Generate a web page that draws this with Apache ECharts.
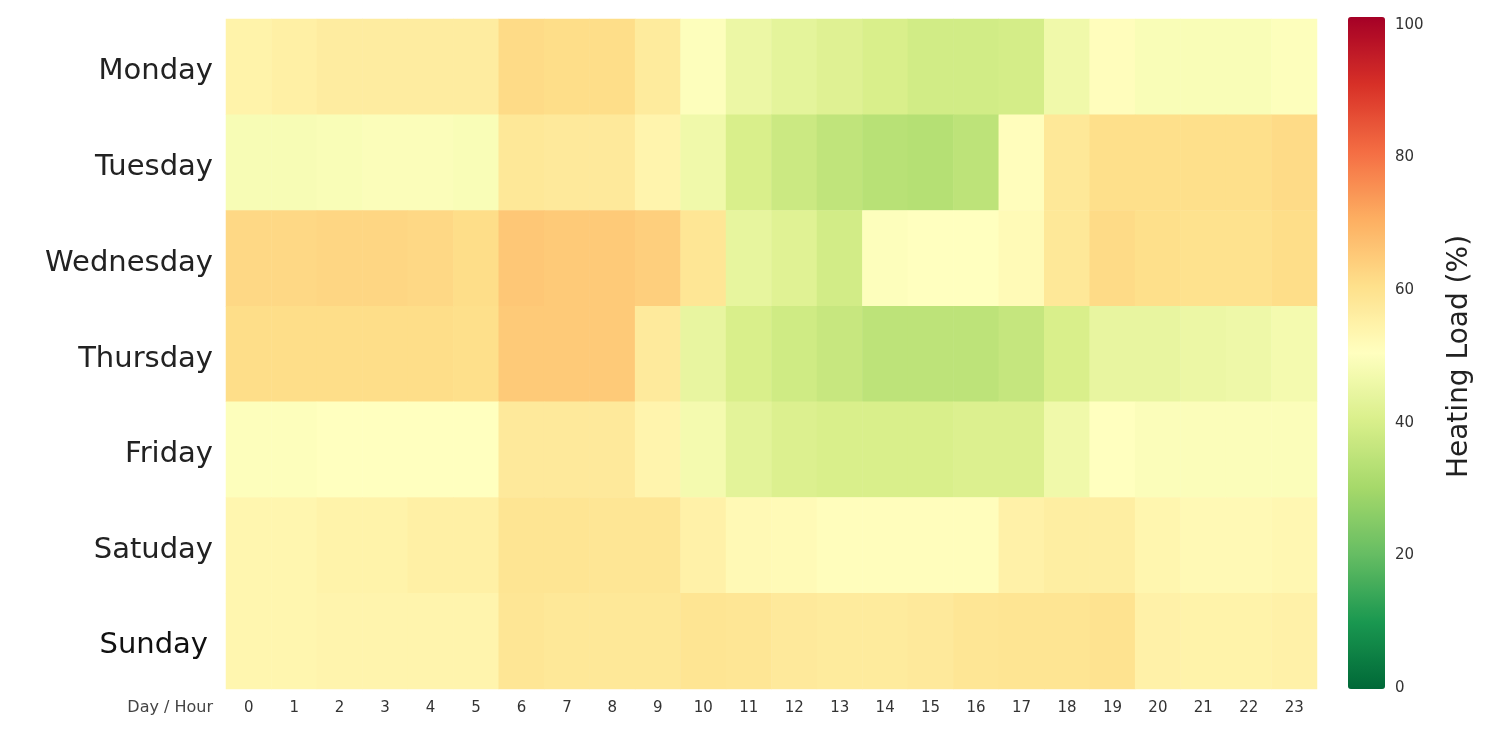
<!DOCTYPE html>
<html><head><meta charset="utf-8">
<script src="https://cdn.jsdelivr.net/npm/echarts@6/dist/echarts.min.js"></script>
<style>html,body{margin:0;padding:0;background:#fff}#c{width:1512px;height:751px}</style>
</head><body><div id="c"></div>
<script>
const days = ['Monday','Tuesday','Wednesday','Thursday','Friday','Satuday','Sunday'];
const hours = ['0','1','2','3','4','5','6','7','8','9','10','11','12','13','14','15','16','17','18','19','20','21','22','23'];
const monday    = [54, 55, 56, 56, 56, 56, 61, 60.5, 60.5, 56.5, 49.5, 45, 43, 41.5, 40, 38.5, 38.5, 39, 46, 50.5, 48.5, 48.5, 48.5, 49.5];
const tuesday   = [48, 48, 48.5, 49, 49, 48.5, 57.5, 57, 57, 53.5, 46, 40, 37.3, 35, 33.5, 33, 34.5, 50.5, 57.5, 60, 60, 60, 60, 61];
const wednesday = [61.5, 61.5, 62, 62, 61.5, 60.5, 65, 64.5, 64.5, 63.4, 58, 43.7, 41.8, 38.7, 49.5, 50, 50, 51.5, 57.5, 61, 60, 59.5, 59.5, 60.5];
const thursday  = [60.5, 60.5, 60.5, 60.5, 60.5, 60, 64.5, 64.5, 64.5, 56.8, 44, 40, 38, 36.5, 34.5, 34.5, 34.5, 36, 40, 44, 44, 45, 45.5, 47];
const friday    = [49.5, 49.5, 50, 50, 50, 50, 57, 57, 57, 53.5, 47, 42.6, 40.8, 40, 40, 40, 40.8, 40.8, 46, 50, 49, 49, 49, 49];
const saturday  = [53, 53, 54, 54, 55, 55, 58.5, 58.5, 58, 58, 54.5, 52, 51.5, 50.5, 50.5, 50.5, 50.5, 54.5, 55.5, 55.5, 53, 52, 52, 52.5];
const sunday    = [53, 53, 53.5, 53.5, 53.5, 53.5, 58, 57.5, 57.5, 57.5, 58.5, 58, 57, 56.5, 56.5, 57, 58, 58.5, 58.5, 59, 54.5, 54, 54, 54.5];
const colorTicks = [0, 100, 20];

const rows = [monday, tuesday, wednesday, thursday, friday, saturday, sunday];
const data = [];
rows.forEach((r, di) => r.forEach((v, hi) => data.push([hi, di, v])));

const FONT = 'DejaVu Sans';
const chart = echarts.init(document.getElementById('c'), null, {renderer: 'canvas'});
chart.setOption({
  animation: false,
  textStyle: {fontFamily: FONT},
  grid: [
    {left: 226, right: 195, top: 19, bottom: 62},
    {left: 1348, top: 25, width: 37, height: 663}
  ],
  xAxis: [
    {type: 'category', data: hours, gridIndex: 0,
     axisLine: {show: false}, axisTick: {show: false}, splitLine: {show: false},
     axisLabel: {color: '#333', fontSize: 15, margin: 12, fontFamily: FONT},
     name: 'Day / Hour', nameLocation: 'start', nameGap: 13,
     nameTextStyle: {color: '#444', fontSize: 16, fontFamily: FONT, verticalAlign: 'top', padding: [11, 0, 0, 0]}},
    {type: 'value', gridIndex: 1, show: false, min: 0, max: 1}
  ],
  yAxis: [
    {type: 'category', data: days, inverse: true, gridIndex: 0,
     axisLine: {show: false}, axisTick: {show: false}, splitLine: {show: false},
     axisLabel: {margin: 13,
       formatter: v => v === 'Sunday' ? '{s|' + v + '}' : '{a|' + v + '}',
       rich: {
         a: {fontSize: 29, color: '#222', fontFamily: FONT, padding: [10, 0, 0, 0]},
         s: {fontSize: 29, color: '#111', fontFamily: FONT, padding: [8, 5, 0, 0]}
       }}},
    {type: 'value', gridIndex: 1, position: 'right', min: colorTicks[0], max: colorTicks[1], interval: colorTicks[2],
     axisLine: {show: false}, axisTick: {show: false}, splitLine: {show: false},
     axisLabel: {color: '#333', fontSize: 15, margin: 10, fontFamily: FONT},
     name: 'Heating Load (%)', nameLocation: 'middle', nameRotate: 90, nameGap: 61,
     nameTextStyle: {color: '#222', fontSize: 28, fontFamily: FONT}}
  ],
  visualMap: {
    type: 'continuous', min: 0, max: 100, calculable: false, orient: 'vertical',
    left: 1348, top: 17, itemWidth: 37, itemHeight: 672, padding: 0, borderRadius: 0,
    showLabel: false, text: null, seriesIndex: 0, hoverLink: false,
    inRange: {color: ['#006837','#1a9850','#66bd63','#a6d96a','#d9ef8b','#ffffbf','#fee08b','#fdae61','#f46d43','#d73027','#a50026']}
  },
  series: [{
    type: 'heatmap', xAxisIndex: 0, yAxisIndex: 0, data: data,
    itemStyle: {borderWidth: 0}, emphasis: {disabled: true}
  }]
});
</script></body></html>
